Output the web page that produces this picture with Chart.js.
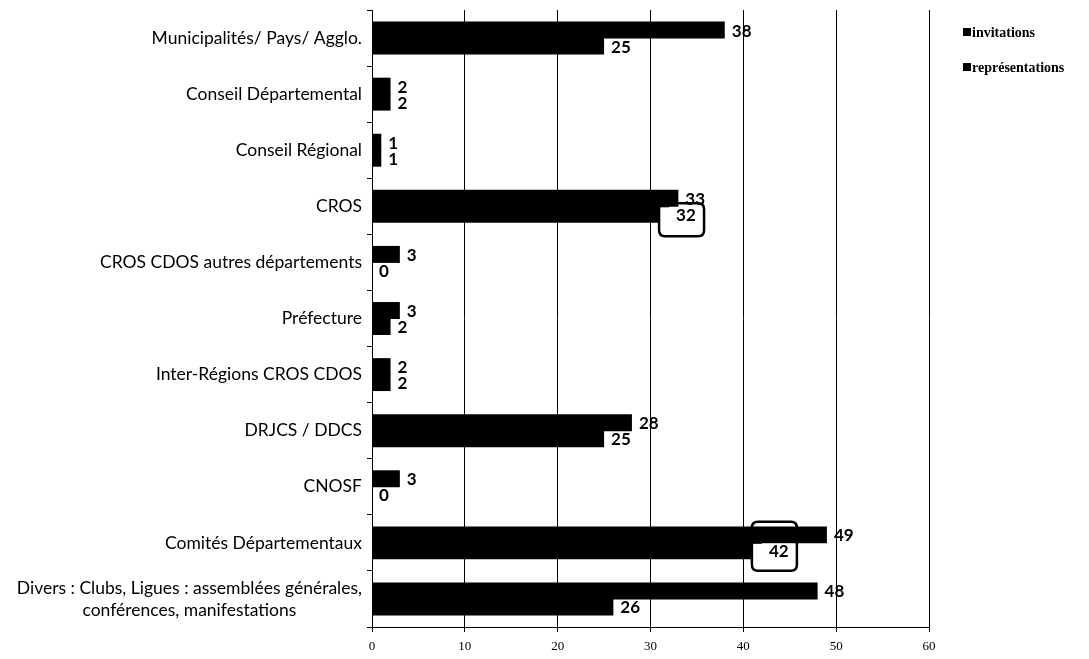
<!DOCTYPE html>
<html>
<head>
<meta charset="utf-8">
<script src="https://cdn.jsdelivr.net/npm/chart.js@4/dist/chart.umd.min.js"></script>
<style>
  body { margin: 0; background: #fff; }
  #wrap { position: relative; width: 1089px; height: 659px; }
  #legend { position: absolute; left: 963px; top: 24px; font: bold 14px "Liberation Serif", serif; color: #000; }
  #legend div { height: 35px; line-height: 18px; white-space: nowrap; }
  #legend span.sq { display: inline-block; width: 8px; height: 8px; background: #000; margin-right: 1px; vertical-align: 1px; }
</style>
</head>
<body>
<div id="wrap">
  <canvas id="graph"></canvas>
  <div id="legend"></div>
</div>
<script>
// donnees
var categories = [
    "Municipalités/ Pays/ Agglo.",
    "Conseil Départemental",
    "Conseil Régional",
    "CROS",
    "CROS CDOS autres départements",
    "Préfecture",
    "Inter-Régions CROS CDOS",
    "DRJCS / DDCS",
    "CNOSF",
    "Comités Départementaux",
    ["Divers : Clubs, Ligues : assemblées générales,", "conférences, manifestations"]
]
var invitations = [38, 2, 1, 33, 3, 3, 2, 28, 3, 49, 48]
var representations = [25, 2, 1, 32, 0, 2, 2, 25, 0, 42, 26]
var seriesNames = ["invitations", "représentations"]
var xTicks = [0, 10, 20, 30, 40, 50, 60]
// labels entoures (index de categorie, serie representations)
var boxed = [
    { index: 3, up: 11, down: 22 },
    { index: 9, up: 29, down: 20 }
]

// ================================================================

var legend = document.getElementById('legend')
seriesNames.forEach(function(name) {
    legend.innerHTML += '<div><span class="sq"></span>' + name + '</div>'
})

function roundRect(ctx, x, y, w, h, r) {
    ctx.beginPath()
    ctx.moveTo(x + r, y)
    ctx.lineTo(x + w - r, y)
    ctx.quadraticCurveTo(x + w, y, x + w, y + r)
    ctx.lineTo(x + w, y + h - r)
    ctx.quadraticCurveTo(x + w, y + h, x + w - r, y + h)
    ctx.lineTo(x + r, y + h)
    ctx.quadraticCurveTo(x, y + h, x, y + h - r)
    ctx.lineTo(x, y + r)
    ctx.quadraticCurveTo(x, y, x + r, y)
    ctx.closePath()
}

var valueLabels = {
    id: 'valueLabels',
    afterDatasetsDraw: function(chart) {
        var ctx = chart.ctx
        ctx.save()
        ctx.font = 'bold 17px Lato'
        ctx.fillStyle = '#000'
        ctx.textAlign = 'left'
        ctx.textBaseline = 'middle'

        function drawSet(d) {
            var meta = chart.getDatasetMeta(d)
            meta.data.forEach(function(el, i) {
                ctx.fillText(chart.data.datasets[d].data[i], el.x + 7, el.y + 1)
            })
        }

        drawSet(0)

        // cadres arrondis
        var meta1 = chart.getDatasetMeta(1)
        boxed.forEach(function(b) {
            var el = meta1.data[b.index]
            var left = el.x - 10
            var w = 45
            var top = el.y - b.up
            var h = b.up + b.down
            var fillTop = el.y - 7
            ctx.fillStyle = '#fff'
            ctx.fillRect(left, fillTop, w, el.y + b.down - fillTop)
            ctx.strokeStyle = '#000'
            ctx.lineWidth = 2.5
            roundRect(ctx, left, top, w, h, 6)
            ctx.stroke()
        })
        ctx.fillStyle = '#000'

        drawSet(1)
        ctx.restore()
    }
}

var yLabels = {
    id: 'yLabels',
    afterDraw: function(chart) {
        var ctx = chart.ctx
        var y = chart.scales.y
        ctx.save()
        ctx.font = '17.5px Lato'
        ctx.fillStyle = '#000'
        ctx.textBaseline = 'middle'
        var right = chart.chartArea.left - 10
        categories.forEach(function(label, i) {
            var py = y.getPixelForTick(i)
            if (Array.isArray(label)) {
                var maxW = Math.max.apply(null, label.map(function(l) { return ctx.measureText(l).width }))
                ctx.textAlign = 'center'
                var lh = 22
                label.forEach(function(l, k) {
                    ctx.fillText(l, right - maxW / 2, py + (k - (label.length - 1) / 2) * lh)
                })
            } else {
                ctx.textAlign = 'right'
                ctx.fillText(label, right, py)
            }
        })
        ctx.restore()
    }
}

var ctx = document.getElementById('graph').getContext('2d')

var data = {
    labels: categories,
    datasets: [
        {
            label: seriesNames[0],
            backgroundColor: '#000',
            data: invitations
        },
        {
            label: seriesNames[1],
            backgroundColor: '#000',
            data: representations
        }
    ]
}

var options = {
    indexAxis: 'y',
    responsive: true,
    maintainAspectRatio: false,
    animation: false,
    layout: { padding: { top: 10, right: 160, left: 0, bottom: 0 } },
    datasets: { bar: { categoryPercentage: 0.57, barPercentage: 1.06 } },
    plugins: { legend: { display: false }, tooltip: { enabled: false } },
    scales: {
        x: {
            min: xTicks[0],
            max: xTicks[xTicks.length - 1],
            afterBuildTicks: function(scale) {
                scale.ticks = xTicks.map(function(v) { return { value: v } })
            },
            afterFit: function(scale) { scale.height = 32 },
            grid: { color: '#000', lineWidth: 1, tickLength: 5, tickColor: '#000' },
            border: { color: '#000', width: 1 },
            ticks: { color: '#000', padding: 7, font: { family: 'Liberation Serif', size: 13 }, maxRotation: 0 }
        },
        y: {
            afterFit: function(scale) { scale.width = 372 },
            grid: { offset: true, drawOnChartArea: false, tickLength: 5, tickColor: '#000' },
            border: { color: '#000', width: 1 },
            ticks: { display: false }
        }
    }
}

var config = {
    type: 'bar',
    data: data,
    options: options,
    plugins: [valueLabels, yLabels]
}

var graph = new Chart(ctx, config)
</script>
</body>
</html>
